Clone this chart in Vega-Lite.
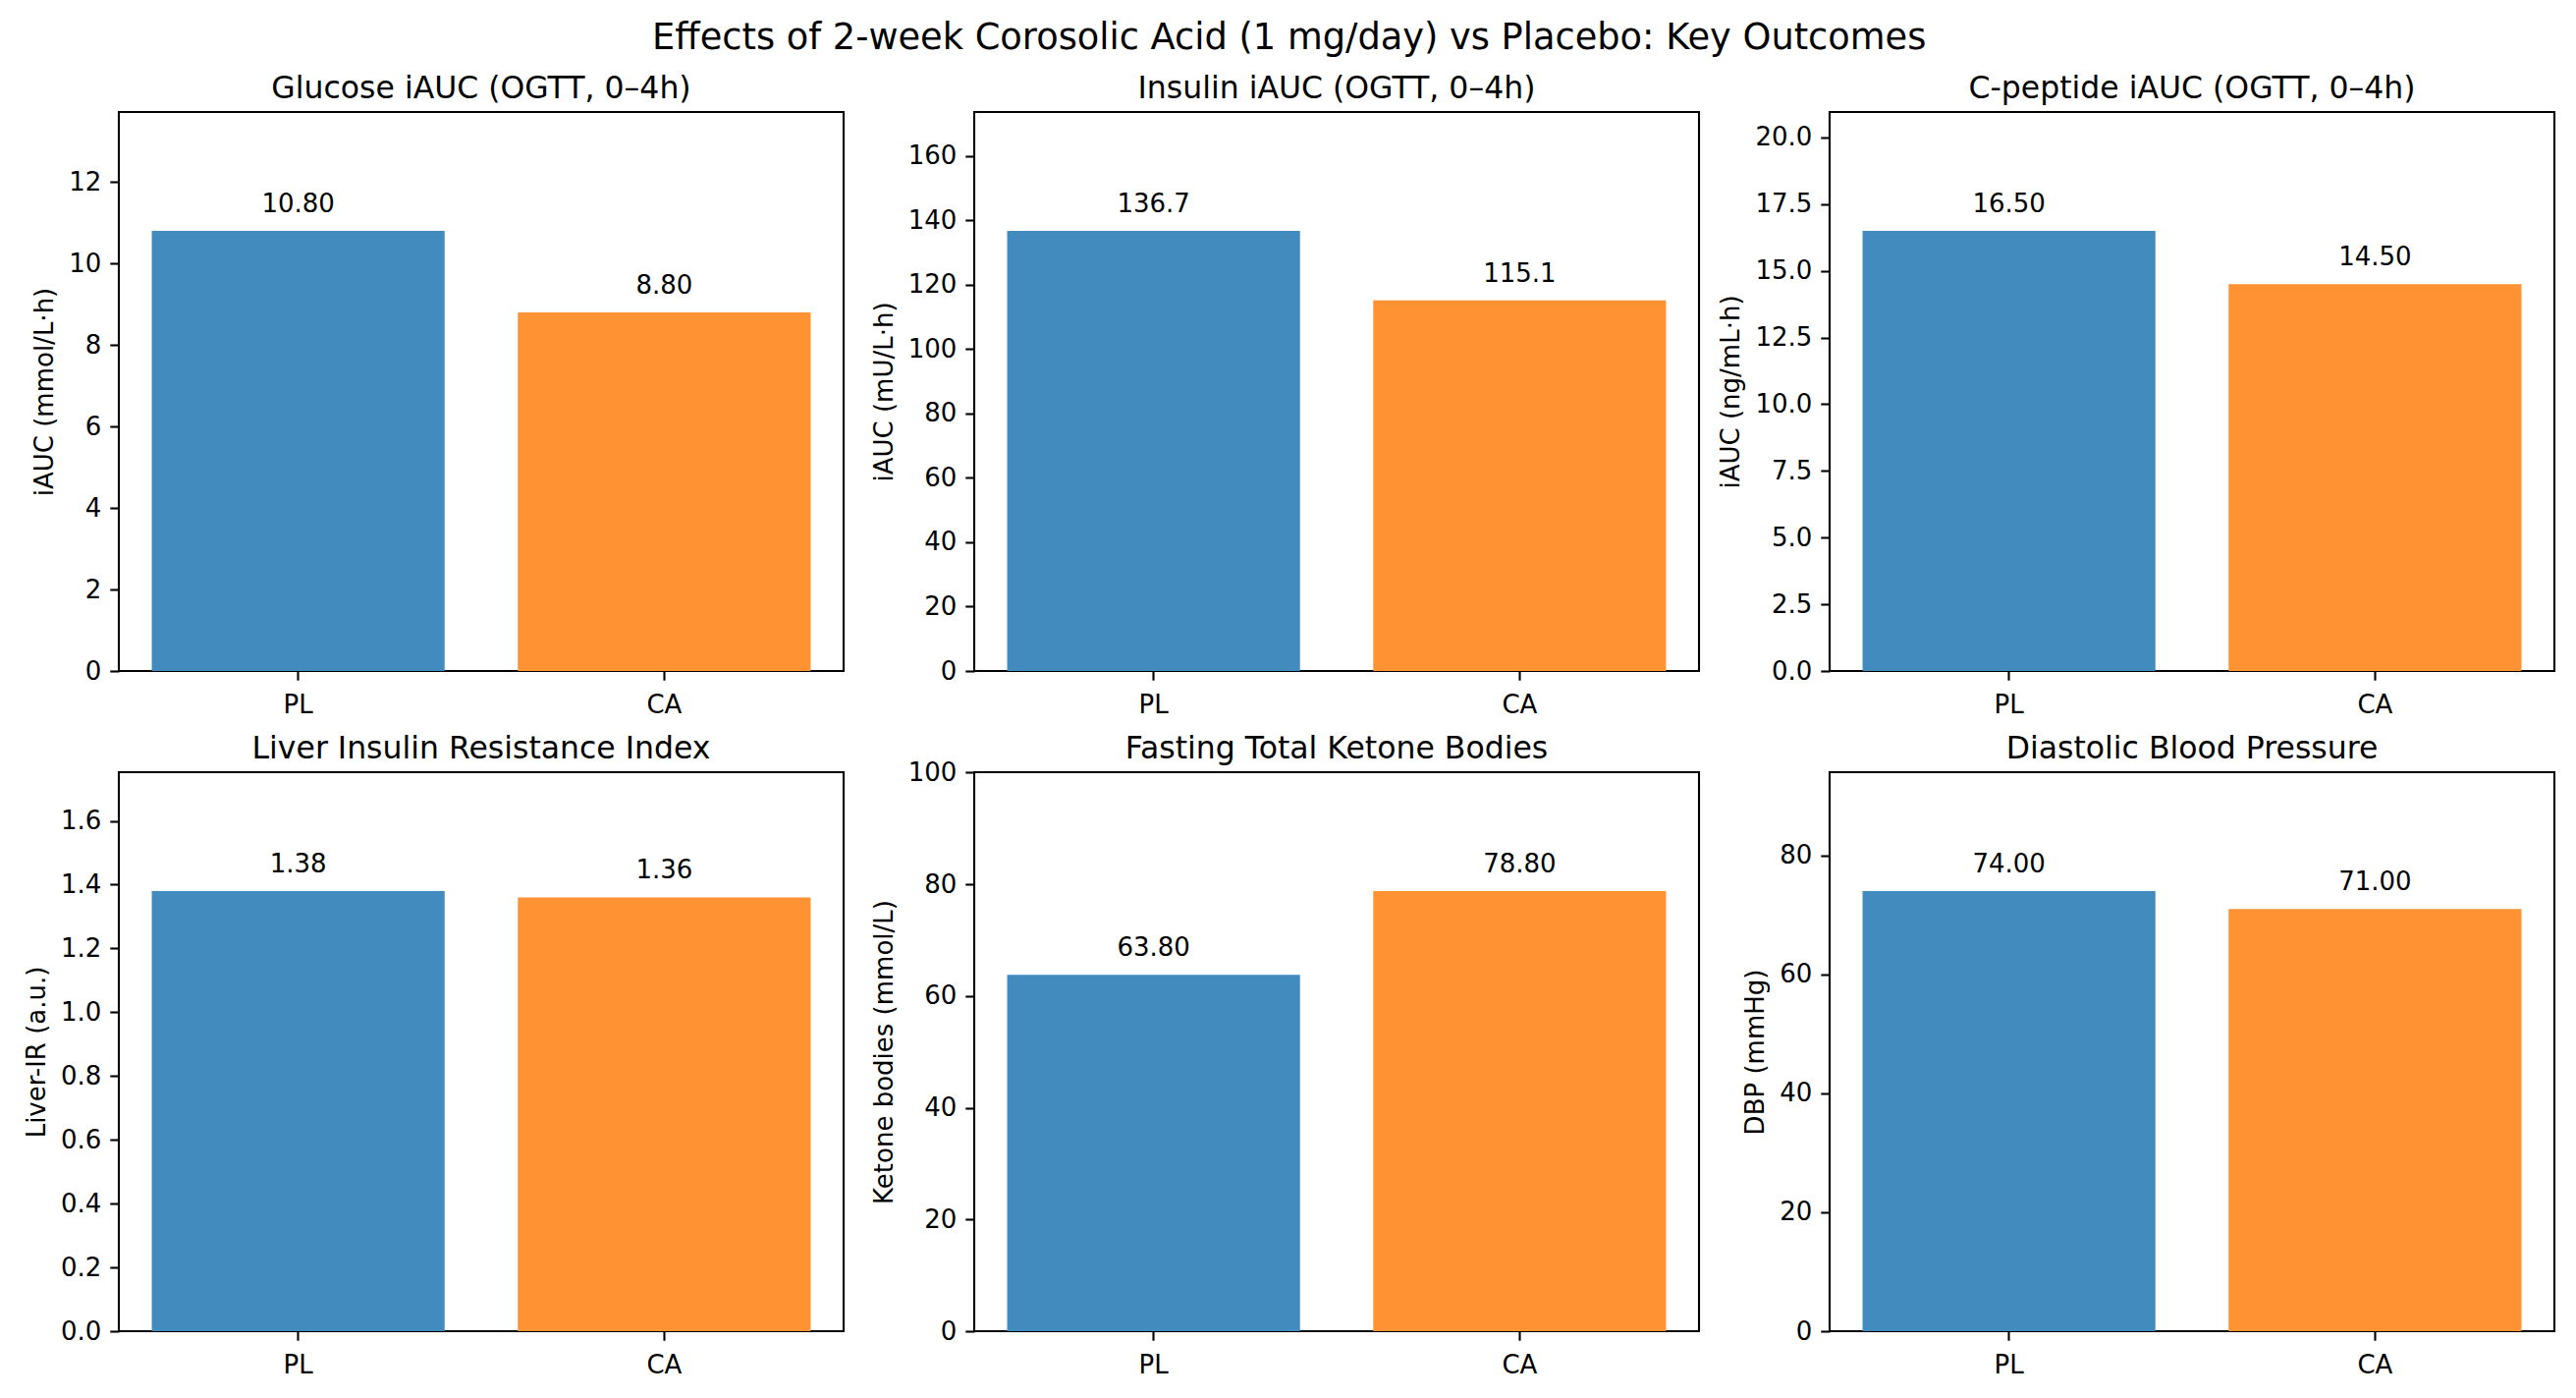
{
  "$schema": "https://vega.github.io/schema/vega-lite/v6.json",
  "background": "white",
  "padding": {"left": 23, "top": 20, "right": 0, "bottom": 0},
  "title": {"text": "Effects of 2-week Corosolic Acid (1 mg/day) vs Placebo: Key Outcomes", "fontSize": 36.75, "fontWeight": "normal", "anchor": "middle", "baseline": "alphabetic", "offset": -13, "color": "black"},
  "data": {"values": [
    {"panel": "glucose", "group": "PL", "value": 10.8},
    {"panel": "glucose", "group": "CA", "value": 8.8},
    {"panel": "insulin", "group": "PL", "value": 136.7},
    {"panel": "insulin", "group": "CA", "value": 115.1},
    {"panel": "cpep", "group": "PL", "value": 16.5},
    {"panel": "cpep", "group": "CA", "value": 14.5},
    {"panel": "liver", "group": "PL", "value": 1.38},
    {"panel": "liver", "group": "CA", "value": 1.36},
    {"panel": "ketone", "group": "PL", "value": 63.8},
    {"panel": "ketone", "group": "CA", "value": 78.8},
    {"panel": "dbp", "group": "PL", "value": 74.0},
    {"panel": "dbp", "group": "CA", "value": 71.0}
  ]},
  "columns": 3,
  "bounds": "flush",
  "align": "all",
  "spacing": {"row": 103, "column": 133},
  "concat": [
    {
      "title": {"text": "Glucose iAUC (OGTT, 0–4h)"},
      "width": 738, "height": 569,
      "transform": [{"filter": "datum.panel === 'glucose'"}],
      "encoding": {
        "x": {"field": "group", "type": "nominal", "sort": ["PL", "CA"], "scale": {"paddingInner": 0.2, "paddingOuter": 0.09}, "axis": {"title": null, "labelAngle": 0}},
        "y": {"field": "value", "type": "quantitative", "scale": {"domain": [0, 13.716], "nice": false, "zero": true}, "axis": {"title": "iAUC (mmol/L·h)", "values": [0, 2, 4, 6, 8, 10, 12], "format": "d"}}
      },
      "layer": [
        {"mark": {"type": "bar"}, "encoding": {"color": {"field": "group", "type": "nominal", "scale": {"domain": ["PL", "CA"], "range": ["#418bbf", "#ff9232"]}, "legend": null}}},
        {"mark": {"type": "text", "baseline": "alphabetic", "dy": -19, "fontSize": 26, "color": "black"}, "encoding": {"text": {"field": "value", "type": "quantitative", "format": ".2f"}}}
      ]
    },
    {
      "title": {"text": "Insulin iAUC (OGTT, 0–4h)"},
      "width": 738, "height": 569,
      "transform": [{"filter": "datum.panel === 'insulin'"}],
      "encoding": {
        "x": {"field": "group", "type": "nominal", "sort": ["PL", "CA"], "scale": {"paddingInner": 0.2, "paddingOuter": 0.09}, "axis": {"title": null, "labelAngle": 0}},
        "y": {"field": "value", "type": "quantitative", "scale": {"domain": [0, 173.609], "nice": false, "zero": true}, "axis": {"title": "iAUC (mU/L·h)", "values": [0, 20, 40, 60, 80, 100, 120, 140, 160], "format": "d"}}
      },
      "layer": [
        {"mark": {"type": "bar"}, "encoding": {"color": {"field": "group", "type": "nominal", "scale": {"domain": ["PL", "CA"], "range": ["#418bbf", "#ff9232"]}, "legend": null}}},
        {"mark": {"type": "text", "baseline": "alphabetic", "dy": -19, "fontSize": 26, "color": "black"}, "encoding": {"text": {"field": "value", "type": "quantitative", "format": ".1f"}}}
      ]
    },
    {
      "title": {"text": "C-peptide iAUC (OGTT, 0–4h)"},
      "width": 738, "height": 569,
      "transform": [{"filter": "datum.panel === 'cpep'"}],
      "encoding": {
        "x": {"field": "group", "type": "nominal", "sort": ["PL", "CA"], "scale": {"paddingInner": 0.2, "paddingOuter": 0.09}, "axis": {"title": null, "labelAngle": 0}},
        "y": {"field": "value", "type": "quantitative", "scale": {"domain": [0, 20.955], "nice": false, "zero": true}, "axis": {"title": "iAUC (ng/mL·h)", "values": [0, 2.5, 5, 7.5, 10, 12.5, 15, 17.5, 20], "format": ".1f"}}
      },
      "layer": [
        {"mark": {"type": "bar"}, "encoding": {"color": {"field": "group", "type": "nominal", "scale": {"domain": ["PL", "CA"], "range": ["#418bbf", "#ff9232"]}, "legend": null}}},
        {"mark": {"type": "text", "baseline": "alphabetic", "dy": -19, "fontSize": 26, "color": "black"}, "encoding": {"text": {"field": "value", "type": "quantitative", "format": ".2f"}}}
      ]
    },
    {
      "title": {"text": "Liver Insulin Resistance Index"},
      "width": 738, "height": 569,
      "transform": [{"filter": "datum.panel === 'liver'"}],
      "encoding": {
        "x": {"field": "group", "type": "nominal", "sort": ["PL", "CA"], "scale": {"paddingInner": 0.2, "paddingOuter": 0.09}, "axis": {"title": null, "labelAngle": 0}},
        "y": {"field": "value", "type": "quantitative", "scale": {"domain": [0, 1.7526], "nice": false, "zero": true}, "axis": {"title": "Liver-IR (a.u.)", "values": [0, 0.2, 0.4, 0.6, 0.8, 1.0, 1.2, 1.4, 1.6], "format": ".1f"}}
      },
      "layer": [
        {"mark": {"type": "bar"}, "encoding": {"color": {"field": "group", "type": "nominal", "scale": {"domain": ["PL", "CA"], "range": ["#418bbf", "#ff9232"]}, "legend": null}}},
        {"mark": {"type": "text", "baseline": "alphabetic", "dy": -19, "fontSize": 26, "color": "black"}, "encoding": {"text": {"field": "value", "type": "quantitative", "format": ".2f"}}}
      ]
    },
    {
      "title": {"text": "Fasting Total Ketone Bodies", "offset": -5},
      "width": 738, "height": 569,
      "transform": [{"filter": "datum.panel === 'ketone'"}],
      "encoding": {
        "x": {"field": "group", "type": "nominal", "sort": ["PL", "CA"], "scale": {"paddingInner": 0.2, "paddingOuter": 0.09}, "axis": {"title": null, "labelAngle": 0}},
        "y": {"field": "value", "type": "quantitative", "scale": {"domain": [0, 100.076], "nice": false, "zero": true}, "axis": {"title": "Ketone bodies (mmol/L)", "values": [0, 20, 40, 60, 80, 100], "format": "d"}}
      },
      "layer": [
        {"mark": {"type": "bar"}, "encoding": {"color": {"field": "group", "type": "nominal", "scale": {"domain": ["PL", "CA"], "range": ["#418bbf", "#ff9232"]}, "legend": null}}},
        {"mark": {"type": "text", "baseline": "alphabetic", "dy": -19, "fontSize": 26, "color": "black"}, "encoding": {"text": {"field": "value", "type": "quantitative", "format": ".2f"}}}
      ]
    },
    {
      "title": {"text": "Diastolic Blood Pressure"},
      "width": 738, "height": 569,
      "transform": [{"filter": "datum.panel === 'dbp'"}],
      "encoding": {
        "x": {"field": "group", "type": "nominal", "sort": ["PL", "CA"], "scale": {"paddingInner": 0.2, "paddingOuter": 0.09}, "axis": {"title": null, "labelAngle": 0}},
        "y": {"field": "value", "type": "quantitative", "scale": {"domain": [0, 93.98], "nice": false, "zero": true}, "axis": {"title": "DBP (mmHg)", "values": [0, 20, 40, 60, 80], "format": "d"}}
      },
      "layer": [
        {"mark": {"type": "bar"}, "encoding": {"color": {"field": "group", "type": "nominal", "scale": {"domain": ["PL", "CA"], "range": ["#418bbf", "#ff9232"]}, "legend": null}}},
        {"mark": {"type": "text", "baseline": "alphabetic", "dy": -19, "fontSize": 26, "color": "black"}, "encoding": {"text": {"field": "value", "type": "quantitative", "format": ".2f"}}}
      ]
    }
  ],
  "config": {
    "font": "DejaVu Sans",
    "view": {"stroke": "black", "strokeWidth": 2.1},
    "title": {"fontSize": 31.5, "fontWeight": "normal", "color": "black", "baseline": "alphabetic", "offset": 8, "anchor": "middle"},
    "axis": {
      "domain": false,
      "grid": false,
      "ticks": true,
      "tickColor": "black",
      "tickWidth": 2.1,
      "tickSize": 9.2,
      "labelFontSize": 26,
      "labelColor": "black",
      "labelPadding": 9,
      "titleFontSize": 26,
      "titleFontWeight": "normal",
      "titleColor": "black",
      "titlePadding": 11
    },
    "axisY": {"labelFlush": false, "labelOverlap": false},
    "axisX": {"labelOverlap": false, "labelPadding": 12}
  }
}
